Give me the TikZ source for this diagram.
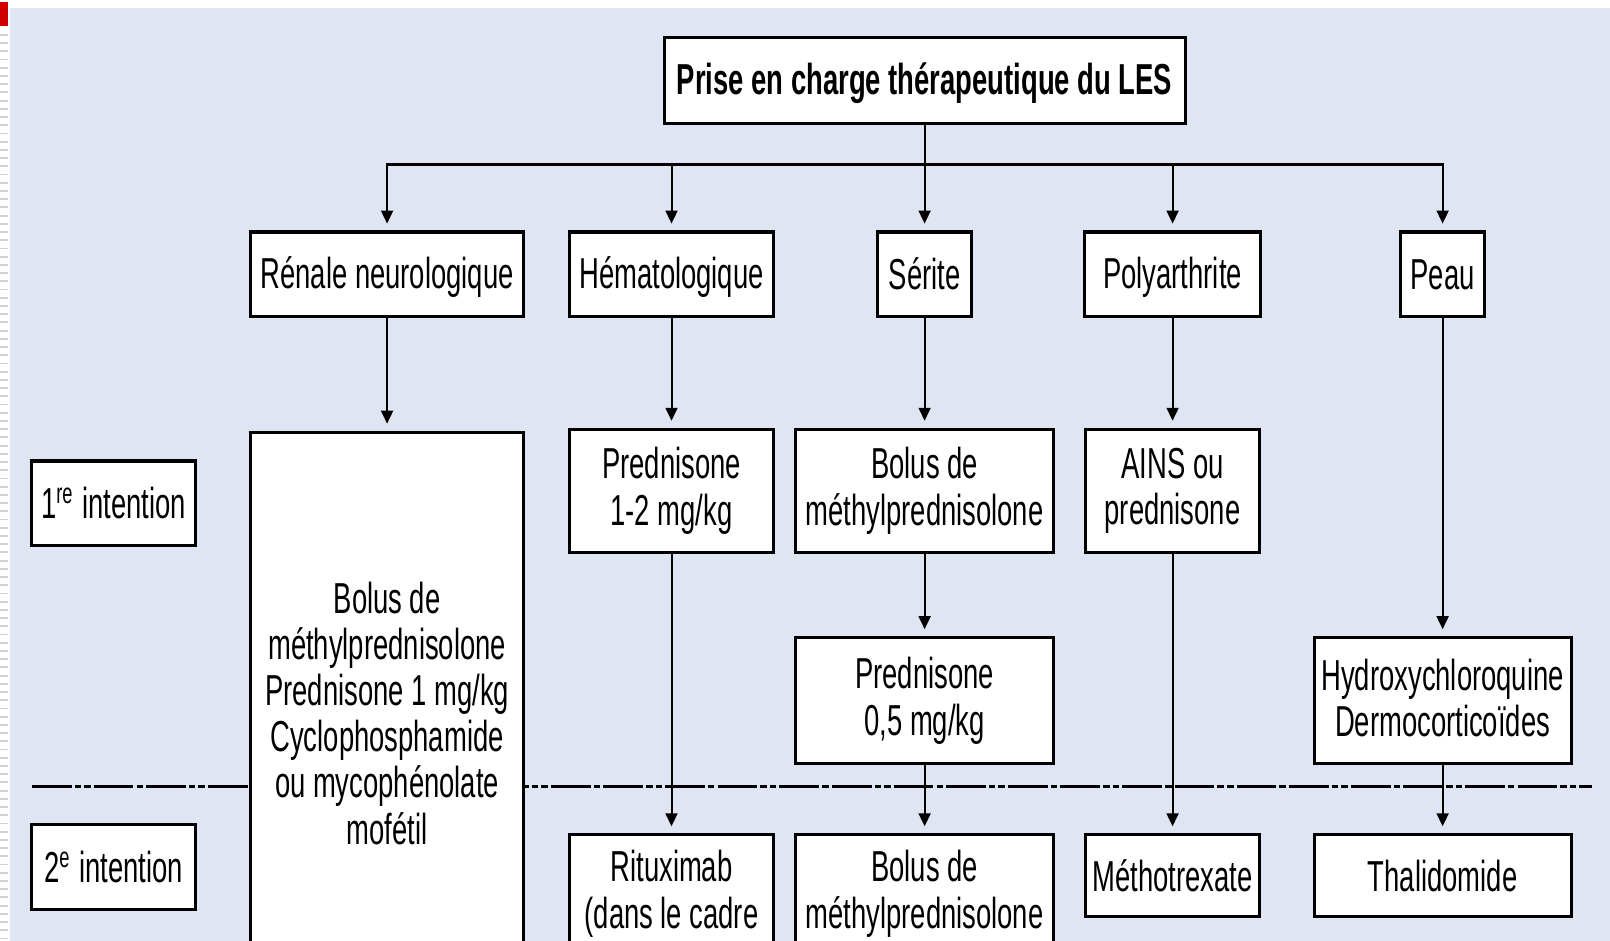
\documentclass[tikz,border=0pt]{standalone}
\usepackage{fontspec}
\setmainfont{Liberation Sans}[FakeStretch=0.633]
\usetikzlibrary{arrows.meta}
\definecolor{fond}{RGB}{223,229,242}
\definecolor{marque}{RGB}{208,0,0}
\newcommand{\calehaut}{\rule{0pt}{10.2pt}}
\newcommand{\calebas}{\rule[-1.5pt]{0pt}{0pt}}
\begin{document}
\begin{tikzpicture}[x=0.01cm,y=-0.01cm,
        box/.style={draw=black,fill=white,line width=0.85pt,inner sep=0pt,
            align=center,font=\fontsize{12}{12.8}\selectfont,
            execute at begin node=\calehaut,execute at end node=\calebas},
        lien/.style={line width=0.55pt},
        fl/.style={lien,-{Triangle[length=3.6pt,width=3.3pt]},shorten >=1.9pt}]
    \useasboundingbox (0,0) rectangle (1568,916);
    \fill[fond] (10,8) rectangle (1568,916);
    \fill[marque] (0,2) rectangle (8,25);
    \foreach \y in {34,42,...,916}
        \draw[gray!35,line width=0.5pt] (0,\y) -- (8,\y);
    % ligne 1re / 2e intention
    \draw[line width=0.95pt,dash pattern=on 11pt off 0.85pt on 1.8pt off 0.85pt on 1.8pt off 0.85pt
        on 11pt off 0.85pt on 1.8pt off 0.85pt]
        (31,766) -- (1550,766);
                \node[box,minimum width=5.07cm,minimum height=0.83cm,
                    font=\fontsize{12}{12.8}\selectfont\bfseries] (0) at(900.5,78.5){Prise en charge thérapeutique du LES};
                \node[box,minimum width=2.66cm,minimum height=0.82cm] (1) at(377,267){Rénale neurologique};
                \node[box,minimum width=1.98cm,minimum height=0.82cm] (2) at(654,267){Hématologique};
                \node[box,minimum width=0.92cm,minimum height=0.82cm] (3) at(900.5,267){Sérite};
                \node[box,minimum width=1.72cm,minimum height=0.82cm] (4) at(1142,267){Polyarthrite};
                \node[box,minimum width=0.82cm,minimum height=0.82cm] (5) at(1405,267){Peau};
                \node[box,minimum width=2.66cm,minimum height=5.52cm] (6) at(377,697){Bolus de\\méthylprednisolone\\Prednisone 1 mg/kg\\Cyclophosphamide\\ou mycophénolate\\mofétil};
                \node[box,minimum width=1.98cm,minimum height=1.20cm] (7) at(654,478){Prednisone\\1-2 mg/kg};
                \node[box,minimum width=2.51cm,minimum height=1.20cm] (8) at(900.5,478){Bolus de\\méthylprednisolone};
                \node[box,minimum width=1.70cm,minimum height=1.20cm] (9) at(1142,478){AINS ou\\prednisone};
                \node[box,minimum width=2.51cm,minimum height=1.23cm] (10) at(900.5,682.5){Prednisone\\0,5 mg/kg};
                \node[box,minimum width=2.50cm,minimum height=1.23cm] (11) at(1405,682.5){Hydroxychloroquine\\Dermocorticoïdes};
                \node[box,minimum width=1.59cm,minimum height=0.82cm] (12) at(110.5,490){1\textsuperscript{re} intention};
                \node[box,minimum width=1.59cm,minimum height=0.83cm] (13) at(110.5,844.5){2\textsuperscript{e} intention};
                \node[box,minimum width=1.98cm,minimum height=1.15cm] (14) at(654,870.5){Rituximab\\(dans le cadre};
                \node[box,minimum width=2.51cm,minimum height=1.15cm] (15) at(900.5,870.5){Bolus de\\méthylprednisolone};
                \node[box,minimum width=1.70cm,minimum height=0.80cm] (16) at(1142,853){Méthotrexate};
                \node[box,minimum width=2.50cm,minimum height=0.80cm] (17) at(1405,853){Thalidomide};
                \coordinate (bus) at(900.5,160);
                \draw[line width=0.9pt] (1.north |- bus) -- (5.north |- bus);
                \draw[lien] (0.south) -- (bus);
                \draw[fl] (bus) -| (1.north);
                \draw[fl] (bus) -| (2.north);
                \draw[fl] (bus) -- (3.north);
                \draw[fl] (bus) -| (4.north);
                \draw[fl] (bus) -| (5.north);
                \draw[fl] (1) -- (6);
                \draw[fl] (2) -- (7);
                \draw[fl] (3) -- (8);
                \draw[fl] (4) -- (9);
                \draw[fl] (5) -- (11);
                \draw[fl] (8) -- (10);
                \draw[fl] (7) -- (14);
                \draw[fl] (10) -- (15);
                \draw[fl] (9) -- (16);
                \draw[fl] (11) -- (17);
\end{tikzpicture}
\end{document}
